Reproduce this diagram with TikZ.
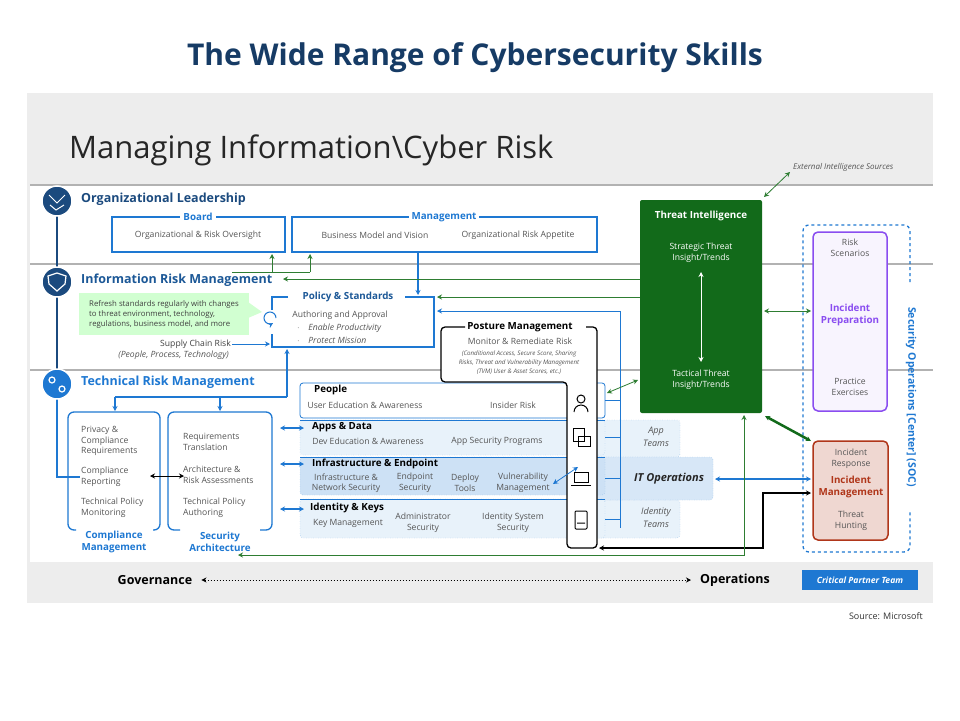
\documentclass[tikz,border=0pt]{standalone}
\usepackage{fontspec}
\setmainfont{Open Sans}
\usetikzlibrary{positioning, arrows.meta}
\definecolor{navy}{HTML}{1B4A7E}
\definecolor{msblue}{HTML}{1E78D2}
\definecolor{tigreen}{HTML}{126A1A}
\definecolor{lgreen}{HTML}{2E7D32}
\definecolor{txtgray}{HTML}{555555}
\definecolor{purp}{HTML}{8A4DF0}
\definecolor{rust}{HTML}{B0361A}
\tikzset{
	>={Stealth[length=5pt,width=5pt]},
	x=1pt, y=-1pt,
	every node/.style={inner sep=1pt, font=\fontsize{8.6}{10.5}\selectfont, text=txtgray, align=center},
	head/.style={font=\bfseries\fontsize{12.5}{14}\selectfont, text=navy, anchor=west},
	sub/.style={font=\bfseries\fontsize{9.8}{11}\selectfont, text=msblue, fill=white, inner sep=3pt},
	row/.style={font=\bfseries\fontsize{9.8}{11}\selectfont, text=black, anchor=west},
	bluebox/.style={draw=msblue, line width=1.3pt},
	rowbox/.style={draw=msblue, line width=0.8pt, rounded corners=3pt},
	teams/.style={draw=msblue!60, dotted, fill=msblue!10, rounded corners=3pt},
	blarr/.style={<->, msblue, line width=1.3pt},
	grarr/.style={->, lgreen, line width=0.8pt},
	band/.style={fill=white},
}
\begin{document}
\begin{tikzpicture}
	\useasboundingbox (0,0) rectangle (960,720);
	% title and panel
	\node[font=\bfseries\fontsize{30}{34}\selectfont, text=navy!80!black] (title) at (475,58) {The Wide Range of Cybersecurity Skills};
	\fill[gray!14] (27,93) rectangle (933,603);
	\node[font=\fontsize{31}{34}\selectfont, text=black!85, anchor=west] (mgr) at (68,150) {Managing Information\textbackslash Cyber Risk};
	\fill[band] (30,186) rectangle (933,562);
	\draw[gray!60, line width=2pt] (30,185) -- (933,185);
	\draw[gray!60, line width=2pt] (30,264) -- (933,264);
	\draw[gray!60, line width=2pt] (30,370) -- (933,370);

	% left spine
	\draw[navy, line width=2.5pt] (57,201) -- (57,384);
	\draw[msblue, line width=2.5pt] (57,384) -- (57,477) -- (80,477);
	\node[circle, fill=navy, minimum size=30pt, draw=white, line width=1.5pt] (c1) at (57,201) {};
	\node[circle, fill=navy, minimum size=30pt, draw=white, line width=1.5pt] (c2) at (57,282) {};
	\node[circle, fill=msblue, minimum size=30pt, draw=white, line width=1.5pt] (c3) at (57,384) {};
	\draw[white, line width=1pt] (49,195) -- (57,203) -- (65,195) (50,205) -- (56,210) -- (64,205);
	\draw[white, line width=1.2pt] (57,273) -- (66,276) -- (65,284) -- (57,291) -- (49,284) -- (48,276) -- cycle;
	\draw[white, line width=1.2pt] (52,380) circle (3pt) (62,389) circle (3pt);

	% organizational leadership
	\node[head] (orgl) at (80,199) {Organizational Leadership};
	\draw[bluebox] (112,217) rectangle (285,252);
	\draw[bluebox] (292,217) rectangle (597,252);
	\node[sub] (board) at (198,217) {Board};
	\node[sub] (mgmt) at (444,217) {Management};
	\node (oversight) at (198,235) {Organizational \& Risk Oversight};
	\node (bmv) at (375,235) {Business Model and Vision};
	\node (appetite) at (518,235) {Organizational Risk Appetite};

	% information risk management
	\node[head, text=navy!70!msblue] (irm) at (80,280) {Information Risk Management};
	\node[fill=green!18, text=black!75, align=left, font=\fontsize{7.8}{10}\selectfont, minimum width=170pt, minimum height=42pt] (refresh) at (164,314) {Refresh standards regularly with changes\\to threat environment, technology,\\regulations, business model, and more};
	\fill[green!18] (248,302) -- (262,312) -- (248,318) -- cycle;
	\draw[bluebox] (288,297) -- (272,297) -- (272,310) (272,334) -- (272,347) -- (434,347) -- (434,297) -- (405,297);
	\draw[msblue, line width=1pt, ->] (276,318) arc (0:300:6pt);
	\node[sub, text=navy!70!msblue] (policy) at (348,297) {Policy \& Standards};
	\node (authoring) at (340,315) {Authoring and Approval};
	\node[anchor=west, font=\itshape\fontsize{8.6}{10}\selectfont] (enable) at (296,328) {$\cdot$\quad Enable Productivity};
	\node[anchor=west, font=\itshape\fontsize{8.6}{10}\selectfont] (protect) at (296,340) {$\cdot$\quad Protect Mission};
	\node[anchor=east, text=black!75] (supply) at (232,344) {Supply Chain Risk};
	\node[anchor=east, font=\itshape\fontsize{8.6}{10}\selectfont] (ppt) at (230,355) {(People, Process, Technology)};
	\draw[->, msblue, line width=1pt] (supply.east) -- (270,344);
	\draw[->, msblue, line width=1.3pt] (418,252) -- (418,295);

	% technical risk management
	\node[head, text=msblue] (trm) at (80,382) {Technical Risk Management};
	\draw[->, msblue, line width=1.3pt] (287,397) -- (287,349);
	\draw[msblue, line width=1.3pt] (115,397) -- (287,397);
	\draw[->, msblue, line width=1.3pt] (115,397) -- (115,411);
	\draw[->, msblue, line width=1.3pt] (220,397) -- (220,411);
	\draw[bluebox, rounded corners=6pt] (76,530) -- (68,530) -- (68,412) -- (160,412) -- (160,530) -- (153,530);
	\draw[bluebox, rounded corners=6pt] (180,530) -- (168,530) -- (168,412) -- (272,412) -- (272,530) -- (260,530);
	\node[anchor=west, align=left] (privacy) at (80,441) {Privacy \&\\Compliance\\Requirements};
	\node[anchor=west, align=left] (creport) at (80,477) {Compliance\\Reporting};
	\node[anchor=west, align=left] (tpm) at (80,508) {Technical Policy\\Monitoring};
	\node[anchor=west, align=left] (reqs) at (182,442) {Requirements\\Translation};
	\node[anchor=west, align=left] (arch) at (182,475) {Architecture \&\\Risk Assessments};
	\node[anchor=west, align=left] (tpa) at (182,508) {Technical Policy\\Authoring};
	\node[font=\bfseries\fontsize{9.8}{11.5}\selectfont, text=msblue] (cm) at (114,542) {Compliance\\Management};
	\node[font=\bfseries\fontsize{9.8}{11.5}\selectfont, text=msblue] (sa) at (220,542) {Security\\Architecture};
	\draw[<->, black, line width=0.8pt] (150,476) -- (184,476);

	% capability rows
	\draw[rowbox, fill=white] (300,383) rectangle (605,418);
	\draw[teams] (596,420) rectangle (680,457);
	\draw[teams] (596,500) rectangle (680,538);
	\draw[teams, fill=msblue!18] (596,457) rectangle (713,500);
	\draw[teams] (300,420) rectangle (605,455);
	\draw[teams, fill=msblue!22] (300,457) rectangle (605,495);
	\draw[teams] (300,499) rectangle (605,538);
	\draw[msblue, line width=0.8pt] (300,420) -- (605,420) (300,457) -- (605,457) (300,499) -- (605,499);
	\node[row, fill=white] (people) at (313,390) {People};
	\node (usered) at (365,405) {User Education \& Awareness};
	\node (insider) at (513,405) {Insider Risk};
	\node[row] (apps) at (311,427) {Apps \& Data};
	\node (deved) at (368,441) {Dev Education \& Awareness};
	\node (appsec) at (497,441) {App Security Programs};
	\node[row] (infra) at (311,464) {Infrastructure \& Endpoint};
	\node (infnet) at (346,483) {Infrastructure \&\\Network Security};
	\node (endsec) at (415,483) {Endpoint\\Security};
	\node (deploy) at (465,483) {Deploy\\Tools};
	\node (vuln) at (523,483) {Vulnerability\\Management};
	\node[row] (ident) at (309,508) {Identity \& Keys};
	\node (keym) at (348,523) {Key Management};
	\node (admsec) at (423,523) {Administrator\\Security};
	\node (idsys) at (513,523) {Identity System\\Security};
	\node[font=\itshape\fontsize{9}{13}\selectfont] (appteams) at (656,437) {App\\Teams};
	\node[font=\itshape\fontsize{9}{13}\selectfont] (idteams) at (656,518) {Identity\\Teams};
	\node[font=\bfseries\itshape\fontsize{11}{13}\selectfont, text=black!85] (itops) at (669,479) {IT Operations};
	\draw[blarr] (280,428) -- (304,428);
	\draw[blarr] (280,464) -- (304,464);
	\draw[blarr] (280,509) -- (304,509);

	% posture management
	\draw[black, line width=1.3pt, rounded corners=4pt, fill=white] (465,327) -- (441,327) -- (441,382) -- (567,382) -- (567,548) -- (597,548) -- (597,327) -- (586,327);
	\node[font=\bfseries\fontsize{9.8}{11}\selectfont, text=black] (posture) at (520,327) {Posture Management};
	\node (monitor) at (520,341) {Monitor \& Remediate Risk};
	\node[font=\itshape\fontsize{6.2}{9}\selectfont] (cond) at (519,363) {(Conditional Access, Secure Score, Sharing\\Risks, Threat and Vulnerability Management\\(TVM) User \& Asset Scores, etc.)};
	\draw[black, line width=1pt] (581,399) circle (4pt) (574,412) arc (180:0:7pt);
	\draw[black, line width=1pt] (573,428) rectangle (584,441) (578,436) rectangle (590,446);
	\draw[black, line width=1pt] (574,472) rectangle (588,482) (571,485) -- (591,485);
	\draw[black, line width=1pt, rounded corners=1pt] (575,511) rectangle (587,529) (577,523) -- (585,523);
	\draw[<->, msblue, line width=0.8pt] (553,484) -- (578,467);

	% feedback lines to rows
	\draw[msblue, line width=0.8pt] (620,311) -- (620,528);
	\foreach \yy in {400,437,478,519}
		\draw[msblue, line width=0.8pt] (605,\yy) -- (620,\yy);
	\draw[->, msblue, line width=0.8pt] (620,311) -- (437,311);
	\draw[grarr] (640,297) -- (437,297);
	\draw[grarr] (640,279) -- (283,279);
	\draw[lgreen, line width=0.8pt] (232,272) -- (310,272);
	\draw[grarr] (272,272) -- (272,254);
	\draw[grarr] (310,272) -- (310,254);

	% threat intelligence
	\node[fill=tigreen, minimum width=122pt, minimum height=213pt, rounded corners=2pt] (ti) at (701,306.5) {};
	\node[text=white, font=\bfseries\fontsize{9.8}{11}\selectfont] (tititle) at (701,216) {Threat Intelligence};
	\node[text=white] (strat) at (701,253) {Strategic Threat\\Insight/Trends};
	\node[text=white] (tact) at (701,380) {Tactical Threat\\Insight/Trends};
	\draw[<->, white, line width=0.8pt] (701,272) -- (701,362);
	\node[font=\itshape\fontsize{8}{10}\selectfont, anchor=west] (ext) at (792,167) {External Intelligence Sources};
	\draw[<->, lgreen, line width=0.8pt] (764,197) -- (790,172);
	\draw[<->, lgreen, line width=0.8pt] (607,393) -- (638,380);

	% SOC
	\draw[msblue, dashed, line width=1.3pt, rounded corners=6pt] (910,282) -- (910,225) -- (803,225) -- (803,552) -- (910,552) -- (910,512);
	\node[rotate=-90, font=\bfseries\fontsize{10.5}{12}\selectfont, text=msblue] (soc) at (911,397) {Security Operations [Center] (SOC)};
	\draw[draw=purp, line width=1.5pt, fill=purp!6, rounded corners=5pt] (813,232) rectangle (887,411);
	\node (riskscen) at (850,248) {Risk\\Scenarios};
	\node[font=\bfseries\fontsize{9.8}{12}\selectfont, text=purp] (incprep) at (850,315) {Incident\\Preparation};
	\node (practice) at (850,387) {Practice\\Exercises};
	\draw[draw=rust, line width=1.5pt, fill=rust!20, rounded corners=5pt] (813,441) rectangle (888,540);
	\node (incresp) at (851,459) {Incident\\Response};
	\node[font=\bfseries\fontsize{9.8}{12}\selectfont, text=rust] (incmgmt) at (851,487) {Incident\\Management};
	\node (hunting) at (851,521) {Threat\\Hunting};
	\draw[<->, lgreen, line width=0.8pt] (764,311) -- (811,311);
	\draw[<->, tigreen, line width=2.5pt] (765,416) -- (811,441);
	\draw[blarr] (715,479) -- (811,479);
	\draw[<->, black, line width=1.3pt] (599,548) -- (763,548) -- (763,493) -- (811,493);
	\draw[<->, lgreen, line width=0.8pt] (238,555) -- (744,555) -- (744,415);

	% bottom
	\node[font=\bfseries\fontsize{12.5}{14}\selectfont, text=black] (gov) at (155,580) {Governance};
	\node[font=\bfseries\fontsize{12.5}{14}\selectfont, text=black] (ops) at (735,580) {Operations};
	\draw[<->, dotted, black, line width=1pt] (gov.east) ++(8,0) -- ([xshift=-8pt]ops.west);
	\node[fill=msblue, text=white, font=\bfseries\itshape\fontsize{8.6}{10}\selectfont, minimum width=116pt, minimum height=20pt] (cpt) at (860,580) {Critical Partner Team};
	\node[anchor=east, font=\fontsize{9}{11}\selectfont, text=black!80] (src) at (924,616) {Source: Microsoft};
\end{tikzpicture}
\end{document}
